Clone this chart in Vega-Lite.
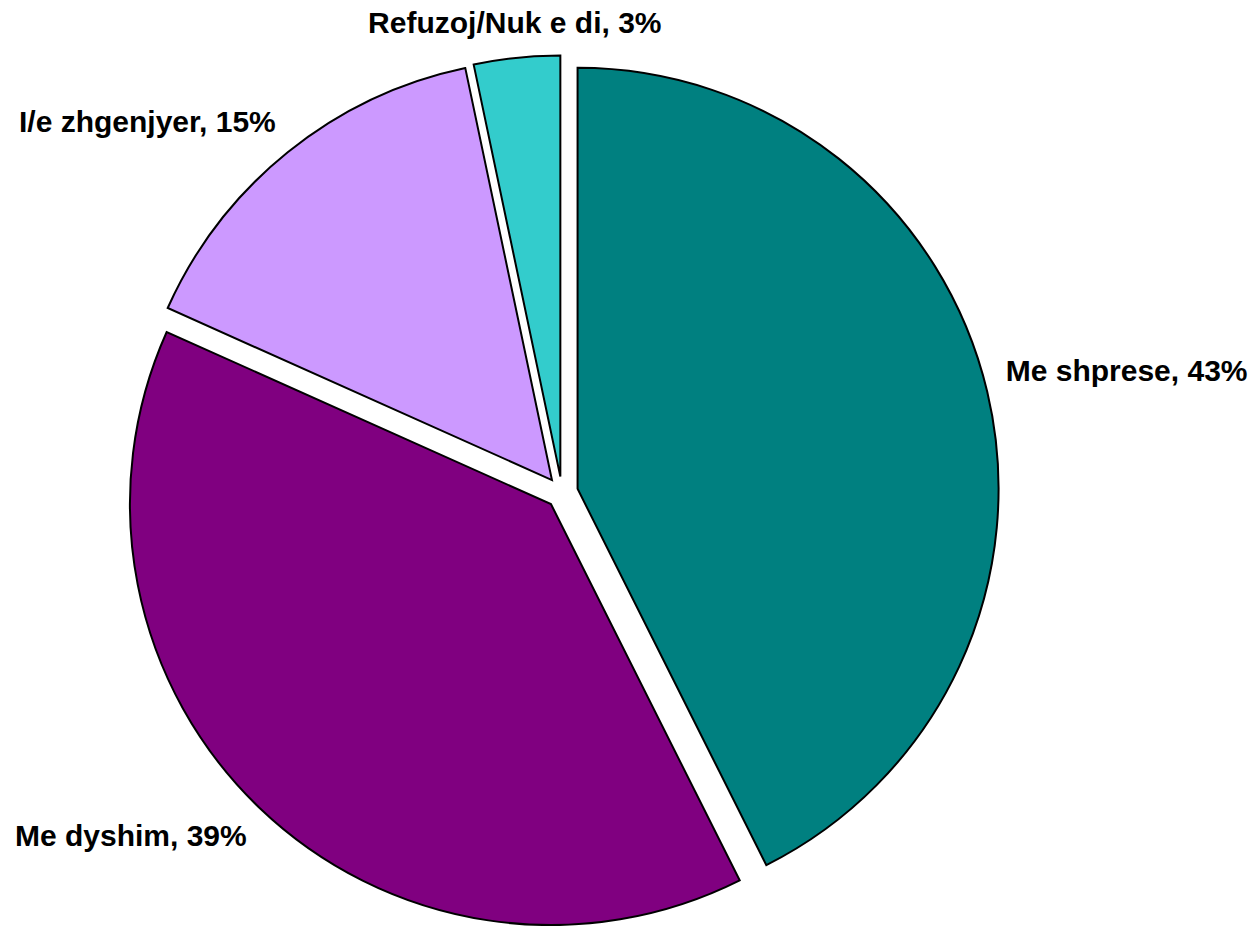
{
  "$schema": "https://vega.github.io/schema/vega-lite/v6.json",
  "width": 1124,
  "height": 867,
  "autosize": {"type": "none"},
  "padding": {"left": 0, "top": 59, "right": 132, "bottom": 0},
  "background": "white",
  "config": {"view": {"stroke": null}},
  "data": {
    "values": [
      {"category": "Me shprese", "value": 42.6, "order": 1, "label": "Me shprese, 43%"},
      {"category": "Me dyshim", "value": 39.1, "order": 2, "label": "Me dyshim, 39%"},
      {"category": "I/e zhgenjyer", "value": 15.0, "order": 3, "label": "I/e zhgenjyer, 15%"},
      {"category": "Refuzoj/Nuk e di", "value": 3.3, "order": 4, "label": "Refuzoj/Nuk e di, 3%"}
    ]
  },
  "encoding": {
    "theta": {"field": "value", "type": "quantitative", "stack": true},
    "order": {"field": "order", "type": "quantitative"}
  },
  "layer": [
    {
      "mark": {
        "type": "arc",
        "outerRadius": 421,
        "stroke": "black",
        "strokeWidth": 2,
        "strokeJoin": "miter",
        "xOffset": {"expr": "16*sin(PI*(datum.value_start+datum.value_end)/100)"},
        "yOffset": {"expr": "-16*cos(PI*(datum.value_start+datum.value_end)/100)"}
      },
      "encoding": {
        "color": {
          "field": "category",
          "type": "nominal",
          "scale": {
            "domain": ["Me shprese", "Me dyshim", "I/e zhgenjyer", "Refuzoj/Nuk e di"],
            "range": ["#008080", "#800080", "#CC99FF", "#33CCCC"]
          },
          "legend": null
        }
      }
    },
    {
      "mark": {
        "type": "text",
        "radius": 456,
        "font": "Liberation Sans",
        "fontWeight": "bold",
        "fontSize": 30,
        "color": "black",
        "baseline": {"expr": "cos(PI*(datum.value_start+datum.value_end)/100) > 0 ? 'bottom' : 'top'"},
        "align": {"expr": "sin(PI*(datum.value_start+datum.value_end)/100) > 0.3 ? 'left' : (sin(PI*(datum.value_start+datum.value_end)/100) < -0.3 ? 'right' : 'center')"}
      },
      "encoding": {
        "text": {"field": "label", "type": "nominal"}
      }
    }
  ]
}
